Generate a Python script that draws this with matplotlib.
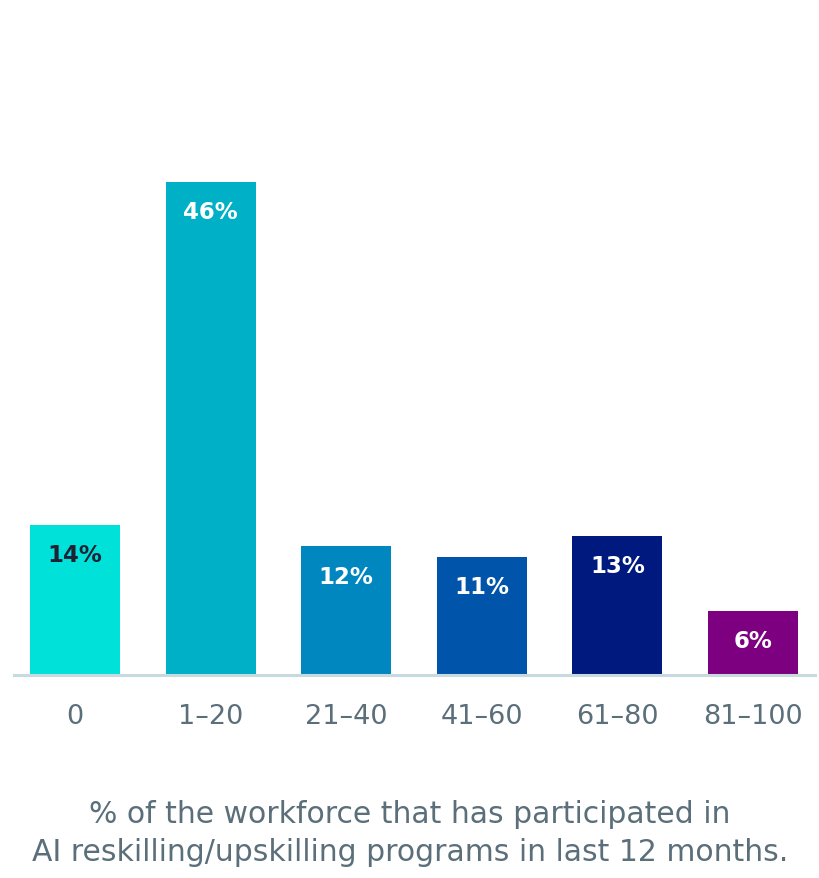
import matplotlib
matplotlib.use("Agg")
import matplotlib.pyplot as plt

plt.rcParams['font.family'] = ['DejaVu Sans']

categories = ["0", "1–20", "21–40", "41–60", "61–80", "81–100"]
values = [14, 46, 12, 11, 13, 6]
colors = ["#00e2d9", "#00b0c6", "#0087bf", "#0055ab", "#00197e", "#7c0080"]
label_colors = ["#1e2233", "white", "white", "white", "white", "white"]

fig = plt.figure(figsize=(8.2, 8.79), dpi=100)
ax = fig.add_axes([14 / 820, 203 / 879, 801 / 820, 536 / 879])

x = range(len(categories))
bars = ax.bar(x, values, width=0.664, color=colors)

# value labels sit just inside the top of each bar
for b, v, c in zip(bars, values, label_colors):
    ax.annotate(f"{v}%", (b.get_x() + b.get_width() / 2, v),
                xytext=(0, -21.5), textcoords="offset points",
                ha="center", va="center", fontsize=16.5, fontweight="bold",
                color=c)

ax.set_xlim(-0.45, 5.457)
ax.set_ylim(0, 50)
ax.axhline(0, color="#c6dae0", lw=2.2, zorder=3, clip_on=False)
for s in ax.spines.values():
    s.set_visible(False)
ax.set_yticks([])
ax.set_xticks(list(x))
ax.set_xticklabels(categories, fontsize=19.5, color="#5b6f7b")
ax.tick_params(axis="x", length=0, pad=20)

fig.text(0.5, 1 - 815 / 879, "% of the workforce that has participated in",
         ha="center", va="center", fontsize=21.5, color="#5b6f7b")
fig.text(0.5, 1 - 853 / 879, "AI reskilling/upskilling programs in last 12 months.",
         ha="center", va="center", fontsize=21.5, color="#5b6f7b")

fig.savefig("out.png", dpi=100, facecolor="white")
